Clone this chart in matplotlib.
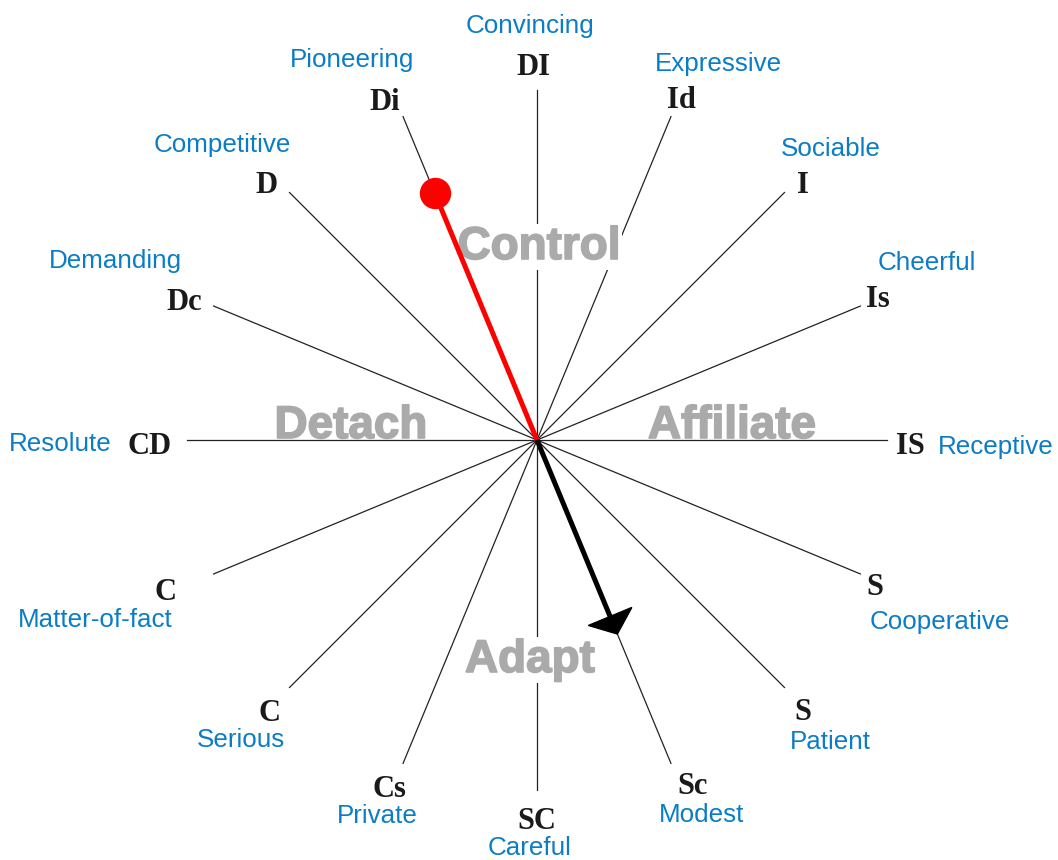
import numpy as np
import matplotlib.pyplot as plt
import matplotlib.patheffects as pe
from matplotlib.patches import Polygon

# style codes around the circle, counter-clockwise starting at the right (0 deg)
codes = ['IS', 'Is', 'I', 'Id', 'DI', 'Di', 'D', 'Dc',
         'CD', 'C', 'C', 'Cs', 'SC', 'Sc', 'S', 'S']
adjectives = ['Receptive', 'Cheerful', 'Sociable', 'Expressive', 'Convincing',
              'Pioneering', 'Competitive', 'Demanding', 'Resolute', 'Matter-of-fact',
              'Serious', 'Private', 'Careful', 'Modest', 'Patient', 'Cooperative']
angles = np.arange(16) * 22.5

# quadrant names
quadrants = ['Control', 'Detach', 'Affiliate', 'Adapt']

# red needle (primary) and black arrow (secondary): spoke index, length (0-1)
needle_idx, needle_len = 5, 0.763
arrow_idx, arrow_len = 13, 0.60

# ---- layout (pixel space) ----
W, H = 1058, 860
cx, cy = 537, 440
R = 350

code_xy = [(910, 454), (878, 307), (803, 193), (681, 108), (533, 75),
           (385, 110), (266, 193), (184, 310), (150, 454), (166, 600),
           (269, 721), (389, 797), (537, 829), (693, 794), (803, 720), (875, 595)]
adj_xy = [(996, 454), (927, 270), (831, 156), (718, 71), (530, 33),
          (352, 67), (222, 152), (115, 268), (60, 451), (95, 627),
          (241, 747), (377, 823), (530, 855), (702, 822), (830, 749), (940, 629)]
quad_xy = [(539, 259), (351, 438), (732, 438), (530, 672)]

blue = '#0b7dc6'
gray = '#aaaaaa'

fig = plt.figure(figsize=(W / 100, H / 100), dpi=100)
ax = fig.add_axes([0, 0, 1, 1])
ax.set_xlim(0, W)
ax.set_ylim(H, 0)
ax.axis('off')


def spoke(a, r):
    t = np.deg2rad(a)
    return cx + r * np.cos(t), cy - r * np.sin(t)


# spokes
for a in angles:
    x, y = spoke(a, R)
    ax.plot([cx, x], [cy, y], color='#222222', lw=0.9, zorder=1)

# labels
for i in range(16):
    ax.text(*code_xy[i], codes[i], ha='center', va='baseline', fontsize=22,
            family='Liberation Serif', weight='bold', color='#1a1a1a')
    ax.text(*adj_xy[i], adjectives[i], ha='center', va='baseline', fontsize=18.7,
            family='Liberation Sans', color=blue)

# quadrant words
for name, (x, y) in zip(quadrants, quad_xy):
    box = None
    if name in ('Control', 'Adapt'):
        box = dict(facecolor='white', edgecolor='none', pad=1)
    ax.text(x, y, name, ha='center', va='baseline', fontsize=33,
            family='Liberation Sans', weight='bold', color=gray, bbox=box, zorder=2,
            path_effects=[pe.withStroke(linewidth=1.2, foreground=gray)])

# red needle
nx, ny = spoke(angles[needle_idx], R * needle_len)
ax.plot([cx, nx], [cy, ny], color='red', lw=3.6, zorder=4, solid_capstyle='butt')
ax.plot(nx, ny, 'o', color='red', ms=21.6, zorder=5)

# black arrow
t = np.deg2rad(angles[arrow_idx])
u = np.array([np.cos(t), -np.sin(t)])
p = np.array([-u[1], u[0]])
tip = np.array([cx, cy]) + u * R * arrow_len
base = tip - u * 19
ax.plot([cx, base[0]], [cy, base[1]], color='black', lw=3.6, zorder=4, solid_capstyle='butt')
ax.add_patch(Polygon([tip, base + p * 23.5, base - p * 23.5], closed=True,
                     color='black', zorder=5))

fig.savefig('out.png', dpi=100)
